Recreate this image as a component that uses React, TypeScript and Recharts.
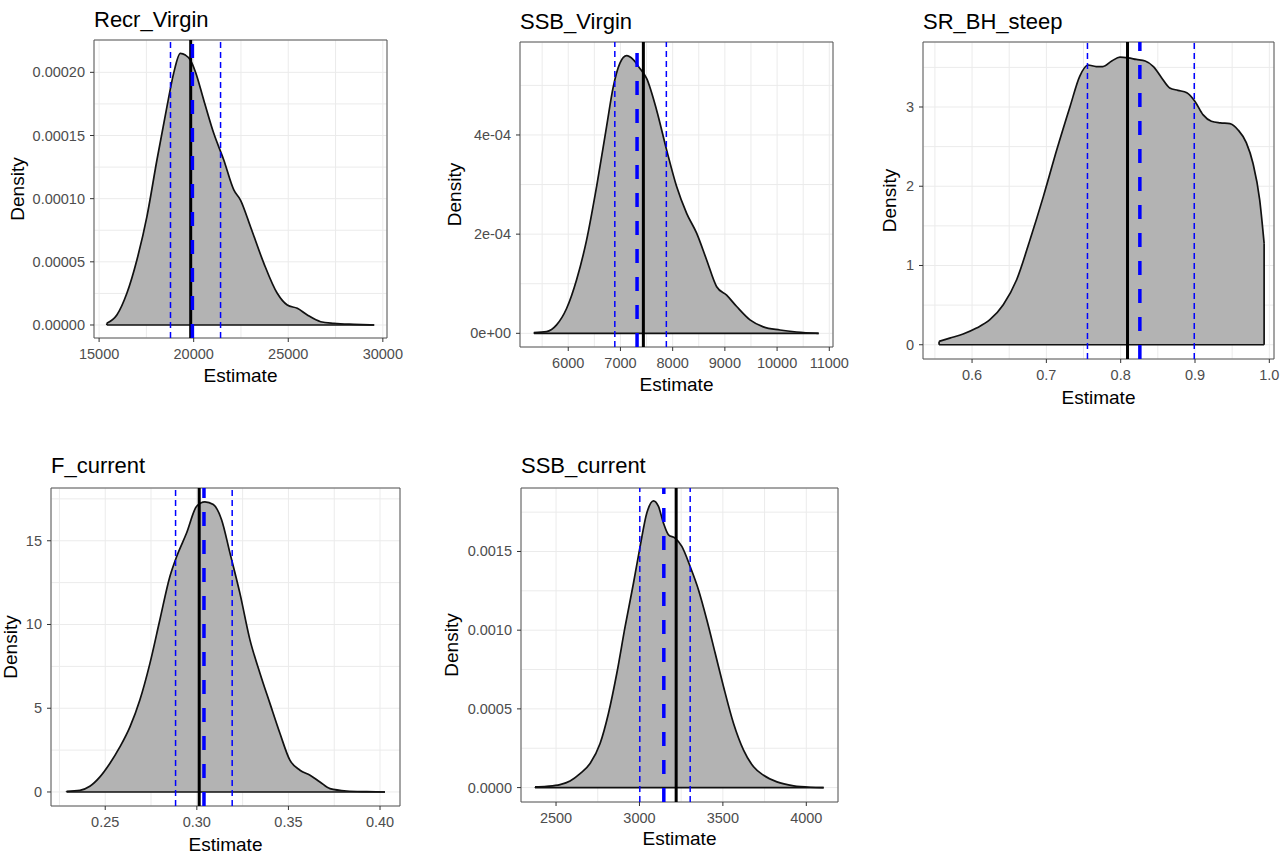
import React from 'react';
import { ComposedChart, Area, XAxis, YAxis, CartesianGrid, ReferenceLine, ReferenceArea } from 'recharts';

const FONT = '"Liberation Sans", Arial, sans-serif';

// Recr_Virgin
const recrVirginX = [15406, 15937, 16467, 16997, 17527, 18057, 18587, 18940, 19294, 19559, 19824, 20089, 20531, 21061, 21591, 22121, 22474, 23004, 23711, 24418, 24948, 25478, 26008, 26715, 27422, 28482, 29543];
const recrVirginY = [0.0000013, 0.0000079, 0.0000251, 0.0000515, 0.0000858, 0.0001306, 0.0001728, 0.0001992, 0.000215, 0.0002137, 0.0002098, 0.0002005, 0.0001781, 0.0001517, 0.0001306, 0.0001069, 0.0000989, 0.0000778, 0.0000488, 0.0000251, 0.0000158, 0.0000132, 0.0000079, 0.0000026, 0.0000013, 0.0000005, 0];
const recrVirginLines = [18774, 21421, 19842, 19931]; // ci low, ci high, estimate, median
const recrVirginXTicks = [15000, 20000, 25000, 30000];
const recrVirginXLabels = ['15000', '20000', '25000', '30000'];
const recrVirginXMinor = [17500, 22500, 27500];
const recrVirginYTicks = [0, 0.00005, 0.0001, 0.00015, 0.0002];
const recrVirginYLabels = ['0.00000', '0.00005', '0.00010', '0.00015', '0.00020'];
const recrVirginYMinor = [0.000025, 0.000075, 0.000125, 0.000175];

// SSB_Virgin
const ssbVirginX = [5342, 5585, 5777, 5968, 6160, 6351, 6543, 6734, 6862, 6990, 7117, 7245, 7373, 7501, 7693, 7884, 8076, 8268, 8459, 8651, 8843, 9034, 9226, 9481, 9736, 10055, 10374, 10796];
const ssbVirginY = [1.3e-6, 3.4e-6, 1.7e-5, 5.0e-5, 1.08e-4, 1.88e-4, 2.96e-4, 4.17e-4, 4.97e-4, 5.45e-4, 5.6e-4, 5.52e-4, 5.34e-4, 5.14e-4, 4.5e-4, 3.7e-4, 2.96e-4, 2.42e-4, 2.02e-4, 1.48e-4, 9.4e-5, 7.7e-5, 5.4e-5, 2.7e-5, 1.3e-5, 6.7e-6, 2.7e-6, 0];
const ssbVirginLines = [6892, 7879, 7439, 7318];
const ssbVirginXTicks = [6000, 7000, 8000, 9000, 10000, 11000];
const ssbVirginXLabels = ['6000', '7000', '8000', '9000', '10000', '11000'];
const ssbVirginXMinor = [5500, 6500, 7500, 8500, 9500, 10500];
const ssbVirginYTicks = [0, 0.0002, 0.0004];
const ssbVirginYLabels = ['0e+00', '2e-04', '4e-04'];
const ssbVirginYMinor = [0.0001, 0.0003, 0.0005];

// SR_BH_steep
const steepX = [0.5556, 0.57, 0.588, 0.606, 0.624, 0.642, 0.66, 0.678, 0.696, 0.714, 0.732, 0.745, 0.756, 0.767, 0.776, 0.788, 0.799, 0.81, 0.821, 0.833, 0.844, 0.855, 0.866, 0.877, 0.889, 0.9, 0.911, 0.922, 0.934, 0.947, 0.958, 0.969, 0.978, 0.987, 0.993];
const steepY = [0.042, 0.084, 0.135, 0.21, 0.316, 0.505, 0.82, 1.325, 1.872, 2.46, 3.01, 3.39, 3.53, 3.51, 3.51, 3.58, 3.63, 3.62, 3.6, 3.58, 3.51, 3.37, 3.24, 3.21, 3.18, 3.07, 2.9, 2.82, 2.8, 2.79, 2.71, 2.55, 2.29, 1.83, 1.28];
const steepLines = [0.7553, 0.899, 0.8092, 0.8258];
const steepXTicks = [0.6, 0.7, 0.8, 0.9, 1.0];
const steepXLabels = ['0.6', '0.7', '0.8', '0.9', '1.0'];
const steepXMinor = [0.55, 0.65, 0.75, 0.85, 0.95];
const steepYTicks = [0, 1, 2, 3];
const steepYLabels = ['0', '1', '2', '3'];
const steepYMinor = [0.5, 1.5, 2.5, 3.5];

// F_current
const fCurX = [0.2289, 0.2362, 0.2416, 0.2471, 0.2525, 0.258, 0.2635, 0.2689, 0.2744, 0.2798, 0.2853, 0.289, 0.2944, 0.2999, 0.3044, 0.309, 0.3135, 0.3181, 0.3235, 0.329, 0.3345, 0.3399, 0.3454, 0.3508, 0.3563, 0.3618, 0.3672, 0.3727, 0.3818, 0.3927, 0.4027];
const fCurY = [0.04, 0.1, 0.34, 0.9, 1.7, 2.69, 3.89, 5.49, 7.68, 10.27, 12.87, 14.06, 15.46, 17.06, 17.32, 17.16, 16.26, 14.26, 11.87, 9.08, 7.08, 5.29, 3.49, 1.9, 1.3, 1.0, 0.6, 0.2, 0.06, 0.02, 0];
const fCurLines = [0.2884, 0.3193, 0.3013, 0.3039];
const fCurXTicks = [0.25, 0.3, 0.35, 0.4];
const fCurXLabels = ['0.25', '0.30', '0.35', '0.40'];
const fCurXMinor = [0.225, 0.275, 0.325, 0.375];
const fCurYTicks = [0, 5, 10, 15];
const fCurYLabels = ['0', '5', '10', '15'];
const fCurYMinor = [2.5, 7.5, 12.5, 17.5];

// SSB_current
const ssbCurX = [2374, 2444, 2524, 2584, 2644, 2704, 2764, 2814, 2864, 2914, 2964, 3004, 3044, 3084, 3114, 3144, 3174, 3214, 3254, 3304, 3354, 3404, 3454, 3504, 3564, 3624, 3684, 3744, 3824, 3924, 4024, 4104];
const ssbCurY = [4e-6, 8e-6, 1.9e-5, 4.2e-5, 8.9e-5, 1.53e-4, 2.8e-4, 4.71e-4, 7.25e-4, 1.022e-3, 1.298e-3, 1.532e-3, 1.744e-3, 1.822e-3, 1.786e-3, 1.68e-3, 1.606e-3, 1.585e-3, 1.532e-3, 1.404e-3, 1.256e-3, 1.065e-3, 8.53e-4, 6.41e-4, 4.07e-4, 2.38e-4, 1.32e-4, 7.8e-5, 3.6e-5, 1.1e-5, 2e-6, 0];
const ssbCurLines = [3002, 3304, 3220, 3146];
const ssbCurXTicks = [2500, 3000, 3500, 4000];
const ssbCurXLabels = ['2500', '3000', '3500', '4000'];
const ssbCurXMinor = [2750, 3250, 3750];
const ssbCurYTicks = [0, 0.0005, 0.001, 0.0015];
const ssbCurYLabels = ['0.0000', '0.0005', '0.0010', '0.0015'];
const ssbCurYMinor = [0.00025, 0.00075, 0.00125, 0.00175];

const findLabel = (v: number, ticks: number[], labels: string[]) => {
  const span = Math.abs(ticks[ticks.length - 1] - ticks[0]) || 1;
  const i = ticks.findIndex((t) => Math.abs(t - v) < span * 1e-6);
  return i >= 0 ? labels[i] : null;
};

function Panel(p: any) {
  const data = p.xs.map((x: number, i: number) => ({ x, y: p.ys[i] }));
  const { plotLeft, plotTop, plotRight, plotBottom, chartLeft, chartRight } = p.box;
  const mt = 4;
  const xh = 40;
  const width = chartRight - chartLeft;
  const height = mt + (plotBottom - plotTop) + xh;
  const first = data[0];
  const last = data[data.length - 1];
  const xTicks = [...p.xMajor, ...p.xMinor].sort((a, b) => a - b);
  const yTicks = [...p.yMajor, ...p.yMinor].sort((a, b) => a - b);
  const [lo, hi, est, mid] = p.vlines;

  const xTick = (t: any) => {
    const lab = findLabel(t.payload.value, p.xMajor, p.xLabels);
    if (lab === null) return <g />;
    return (
      <g>
        <line x1={t.x} x2={t.x} y1={t.y - 10} y2={t.y - 6} stroke="#333" strokeWidth={1} />
        <text x={t.x} y={t.y} dy={10.5} textAnchor="middle" fontSize={14.5} fill="#4D4D4D" fontFamily={FONT}>{lab}</text>
      </g>
    );
  };
  const yTick = (t: any) => {
    const lab = findLabel(t.payload.value, p.yMajor, p.yLabels);
    if (lab === null) return <g />;
    return (
      <g>
        <line x1={t.x + 5} x2={t.x + 9} y1={t.y} y2={t.y} stroke="#333" strokeWidth={1} />
        <text x={t.x} y={t.y} dy={5} textAnchor="end" fontSize={14.5} fill="#4D4D4D" fontFamily={FONT}>{lab}</text>
      </g>
    );
  };

  return (
    <div style={{ position: 'absolute', left: chartLeft, top: plotTop - mt }}>
      <ComposedChart width={width} height={height} data={data} margin={{ top: mt, right: chartRight - plotRight, bottom: 0, left: 0 }}>
        <CartesianGrid stroke="#EBEBEB" strokeWidth={1} />
        <XAxis dataKey="x" type="number" domain={p.xDomain} allowDataOverflow ticks={xTicks} interval={0} tickLine={false} axisLine={false} tickSize={4} tickMargin={6} height={xh} tick={xTick} />
        <YAxis type="number" domain={p.yDomain} allowDataOverflow ticks={yTicks} interval={0} tickLine={false} axisLine={false} tickSize={4} tickMargin={5} width={plotLeft - chartLeft} tick={yTick} />
        <Area dataKey="y" type="monotone" baseValue={0} fill="#B3B3B3" fillOpacity={1} stroke="#111" strokeWidth={1.7} dot={false} activeDot={false} isAnimationActive={false} />
        <ReferenceLine segment={[{ x: first.x, y: 0 }, { x: last.x, y: 0 }]} stroke="#111" strokeWidth={1.7} />
        <ReferenceLine segment={[{ x: first.x, y: 0 }, { x: first.x, y: first.y }]} stroke="#111" strokeWidth={1.7} />
        <ReferenceLine segment={[{ x: last.x, y: 0 }, { x: last.x, y: last.y }]} stroke="#111" strokeWidth={1.7} />
        <ReferenceLine x={lo} stroke="#0000FF" strokeWidth={1.5} strokeDasharray="6 4" />
        <ReferenceLine x={hi} stroke="#0000FF" strokeWidth={1.5} strokeDasharray="6 4" />
        <ReferenceLine x={est} stroke="#000" strokeWidth={3} />
        <ReferenceLine x={mid} stroke="#0000FF" strokeWidth={3.5} strokeDasharray="14 14" />
        <ReferenceArea x1={p.xDomain[0]} x2={p.xDomain[1]} y1={p.yDomain[0]} y2={p.yDomain[1]} fill="none" fillOpacity={0} stroke="#555" strokeWidth={1} />
      </ComposedChart>
    </div>
  );
}

const panels = [
  {
    title: 'Recr_Virgin', xs: recrVirginX, ys: recrVirginY, vlines: recrVirginLines,
    xMajor: recrVirginXTicks, xLabels: recrVirginXLabels, xMinor: recrVirginXMinor,
    yMajor: recrVirginYTicks, yLabels: recrVirginYLabels, yMinor: recrVirginYMinor,
    xDomain: [14730, 30220], yDomain: [-0.0000103, 0.0002256],
    box: { plotLeft: 94, plotTop: 40, plotRight: 387, plotBottom: 338, chartLeft: 0, chartRight: 410 },
    titleY: 27, estY: 382, densX: 24,
  },
  {
    title: 'SSB_Virgin', xs: ssbVirginX, ys: ssbVirginY, vlines: ssbVirginLines,
    xMajor: ssbVirginXTicks, xLabels: ssbVirginXLabels, xMinor: ssbVirginXMinor,
    yMajor: ssbVirginYTicks, yLabels: ssbVirginYLabels, yMinor: ssbVirginYMinor,
    xDomain: [5076, 11071], yDomain: [-0.0000276, 0.0005875],
    box: { plotLeft: 520, plotTop: 42, plotRight: 833, plotBottom: 347, chartLeft: 465, chartRight: 856 },
    titleY: 28.5, estY: 391, densX: 461,
  },
  {
    title: 'SR_BH_steep', xs: steepX, ys: steepY, vlines: steepLines,
    xMajor: steepXTicks, xLabels: steepXLabels, xMinor: steepXMinor,
    yMajor: steepYTicks, yLabels: steepYLabels, yMinor: steepYMinor,
    xDomain: [0.534, 1.0063], yDomain: [-0.18, 3.82],
    box: { plotLeft: 923, plotTop: 42, plotRight: 1274, plotBottom: 359, chartLeft: 900, chartRight: 1287 },
    titleY: 29.3, estY: 404, densX: 896,
  },
  {
    title: 'F_current', xs: fCurX, ys: fCurY, vlines: fCurLines,
    xMajor: fCurXTicks, xLabels: fCurXLabels, xMinor: fCurXMinor,
    yMajor: fCurYTicks, yLabels: fCurYLabels, yMinor: fCurYMinor,
    xDomain: [0.2204, 0.4109], yDomain: [-0.837, 18.15],
    box: { plotLeft: 51, plotTop: 488, plotRight: 400, plotBottom: 806, chartLeft: 20, chartRight: 410 },
    titleY: 473.3, estY: 851, densX: 16.5,
  },
  {
    title: 'SSB_current', xs: ssbCurX, ys: ssbCurY, vlines: ssbCurLines,
    xMajor: ssbCurXTicks, xLabels: ssbCurXLabels, xMinor: ssbCurXMinor,
    yMajor: ssbCurYTicks, yLabels: ssbCurYLabels, yMinor: ssbCurYMinor,
    xDomain: [2290, 4190], yDomain: [-0.0000916, 0.0019033],
    box: { plotLeft: 521, plotTop: 488, plotRight: 838, plotBottom: 802, chartLeft: 462, chartRight: 850 },
    titleY: 472.7, estY: 845, densX: 458,
  },
];

export default function App() {
  return (
    <div style={{ position: 'absolute', left: 0, top: 0, width: 1287, height: 854, overflow: 'hidden', background: '#fff', fontFamily: FONT }}>
      {panels.map((p) => (
        <Panel key={p.title} {...p} />
      ))}
      <svg width={1287} height={854} style={{ position: 'absolute', left: 0, top: 0, pointerEvents: 'none' }}>
        {panels.map((p) => {
          const b = p.box;
          const cx = (b.plotLeft + b.plotRight) / 2;
          const cy = (b.plotTop + b.plotBottom) / 2;
          return (
            <g key={p.title} fontFamily={FONT} fill="#000">
              <text x={b.plotLeft} y={p.titleY} fontSize={22}>{p.title}</text>
              <text x={cx} y={p.estY} fontSize={19} textAnchor="middle">Estimate</text>
              <text x={p.densX} y={cy} fontSize={19} textAnchor="middle" transform={`rotate(-90 ${p.densX} ${cy})`}>Density</text>
            </g>
          );
        })}
      </svg>
    </div>
  );
}
